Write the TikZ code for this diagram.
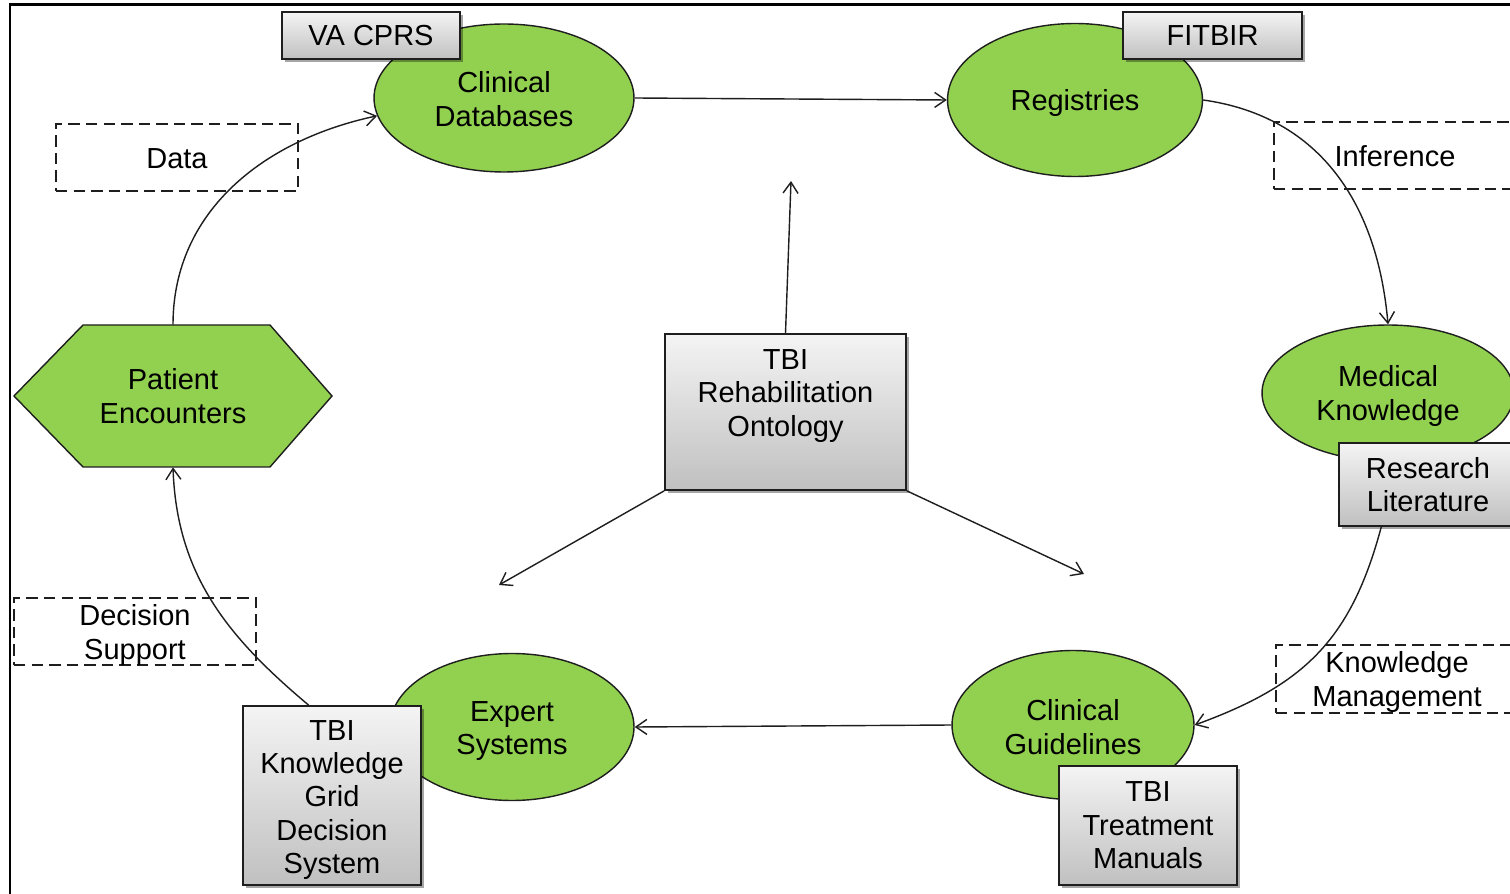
\documentclass[tikz,border=0pt]{standalone}
\usepackage{fontspec}
\setmainfont{Liberation Sans}
\usetikzlibrary{shapes.geometric,shadows,arrows.meta,calc}
\definecolor{leaf}{RGB}{146,208,80}
\definecolor{boxtop}{RGB}{244,244,244}
\definecolor{boxbot}{RGB}{192,192,192}
\definecolor{edge}{RGB}{30,30,30}
\begin{document}
\begin{tikzpicture}[x=0.02cm,y=0.02cm,
  font=\fontsize{16.5pt}{19pt}\selectfont,
  every node/.style={align=center, inner sep=0pt},
  greenell/.style={ellipse, draw=edge, line width=0.8pt, fill=leaf},
  graybox/.style={rectangle, draw=edge, line width=1pt,
    top color=boxtop, bottom color=boxbot,
    drop shadow={shadow xshift=0.06cm, shadow yshift=-0.06cm, fill=black, opacity=0.35}},
  dashbox/.style={rectangle, draw=edge, line width=0.9pt, dash pattern=on 6.5pt off 3.5pt},
  flow/.style={draw=edge, line width=0.8pt, -{Straight Barb[length=2.2mm,width=3mm]}}
]
\useasboundingbox (0,0) rectangle (1510,893);
\clip (0,0) rectangle (1510,893);
\fill[white] (0,0) rectangle (1510,893);

% outer frame
\draw[line width=1.7pt] (10,-20) -- (10,888) -- (1540,888);

% green ellipses (labels set separately so they sit where wanted)
\node[greenell, minimum width=5.2cm, minimum height=2.96cm] (cd) at (504,795) {};
\node (cdtext) at (504,794) {Clinical\\Databases};
\node[greenell, minimum width=5.1cm, minimum height=3.06cm] (reg) at (1075,793) {};
\node (regtext) at (1075,790) {Registries};
\node[greenell, minimum width=5.04cm, minimum height=2.72cm] (mk) at (1388,500) {};
\node (mktext) at (1388,497) {Medical\\Knowledge};
\node[greenell, minimum width=4.88cm, minimum height=2.94cm] (es) at (512,166) {};
\node (estext) at (512,162) {Expert\\Systems};
\node[greenell, minimum width=4.84cm, minimum height=2.98cm] (cg) at (1073,168) {};
\node (cgtext) at (1073,166) {Clinical\\Guidelines};

% hexagon for patient encounters
\fill[leaf, draw=edge, line width=0.8pt] (14,497) -- (83,568) -- (270,568) -- (332,497) -- (270,426) -- (83,426) -- cycle;
\node[minimum width=6.36cm, minimum height=2.84cm] (pe) at (173,497) {Patient\\Encounters};

% gray source boxes
\node[graybox, minimum width=3.56cm, minimum height=0.94cm] (vacprs) at (371,857.5) {VA CPRS};
\node[graybox, minimum width=3.58cm, minimum height=0.94cm] (fitbir) at (1212.5,857.5) {FITBIR};
\node[graybox, minimum width=3.56cm, minimum height=1.66cm] (rl) at (1428,408.5) {Research\\Literature};
\node[graybox, minimum width=3.56cm, minimum height=3.58cm] (kgds) at (332,97.5) {};
\node (kgdstext) at (332,93) {TBI\\Knowledge\\Grid\\Decision\\System};
\node[graybox, minimum width=3.56cm, minimum height=2.38cm] (tm) at (1148,67.5) {TBI\\Treatment\\Manuals};

% central ontology
\node[graybox, minimum width=4.82cm, minimum height=3.12cm] (onto) at (785.5,481) {};
\node (ontotext) at (785.5,497) {TBI\\Rehabilitation\\Ontology};

% dashed process labels
\node[dashbox, minimum width=4.84cm, minimum height=1.34cm] (data) at (177,735.5) {};
\node (datatext) at (177,734.5) {Data};
\node[dashbox, minimum width=4.84cm, minimum height=1.34cm] (inf) at (1395,737.5) {};
\node (inftext) at (1395,736.5) {Inference};
\node[dashbox, minimum width=4.84cm, minimum height=1.36cm] (km) at (1397,214) {};
\node (kmtext) at (1397,211) {Knowledge\\Management};
\node[dashbox, minimum width=4.84cm, minimum height=1.34cm] (ds) at (135,261.5) {};
\node (dstext) at (135,258) {Decision\\Support};

% cycle connectors
\draw[flow] (cd.east) -- (reg.west);
\draw[flow] (reg.east) to[out=-8, in=95, looseness=1.05] (mk.north);
\draw[flow] ($(rl.south west)!0.24!(rl.south east)$) to[out=-105, in=20, looseness=1.1] (cg.east);
\draw[flow] (cg.west) -- (es.east);
\draw[flow] ($(kgds.north west)!0.37!(kgds.north east)$) to[out=140, in=-88, looseness=1.0] (pe.south);
\draw[flow] (pe.north) to[out=90, in=192, looseness=1.0] (cd.188);

% ontology spokes
\coordinate (up) at (791,712);
\coordinate (lowleft) at (499,308);
\coordinate (lowright) at (1084,319);
\draw[flow] (onto.north) -- (up);
\draw[flow] (onto.south west) -- (lowleft);
\draw[flow] (onto.south east) -- (lowright);
\end{tikzpicture}
\end{document}
